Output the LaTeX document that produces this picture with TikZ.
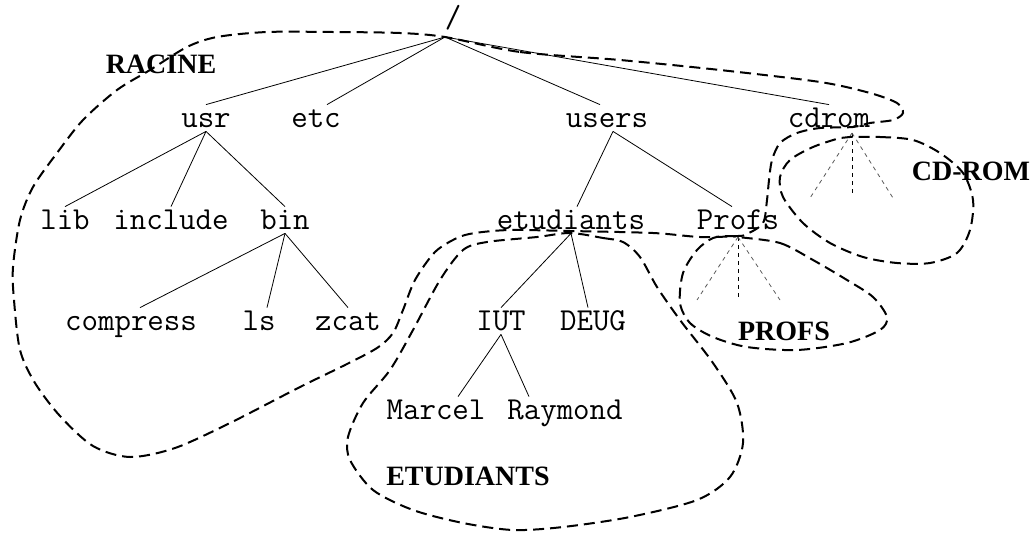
\documentclass[tikz,border=0pt]{standalone}
\usepackage{fontspec}
\setmainfont{Liberation Serif}

\begin{document}
\begin{tikzpicture}[x=5pt,y=-5pt,
  file/.style={font=\ttfamily\fontsize{16}{18}\selectfont, anchor=base, inner sep=0pt, text height=11pt, text depth=2pt},
  part/.style={font=\bfseries\fontsize{14}{16}\selectfont, anchor=base},
  zone/.style={line width=1pt, dash pattern=on 5.5pt off 3pt},
  fan/.style={thin, black!65, dash pattern=on 2pt off 2pt}]
\useasboundingbox (0,0) rectangle (103.3,53.6);

% l'arborescence
\node[file] (root) at (45.3,2.7) {/};
\coordinate (rootpt) at (44.5,3.7);
\node[file] (usr) at (20.6,12.7) {usr};
\node[file] (etc) at (31.6,12.7) {etc};
\node[file] (users) at (60.7,12.7) {users};
\node[file] (cdrom) at (82.9,12.7) {cdrom};
\node[file] (lib) at (6.5,22.9) {lib};
\node[file] (include) at (17.1,22.9) {include};
\node[file] (bin) at (28.5,22.9) {bin};
\node[file] (etudiants) at (57.1,22.9) {etudiants};
\node[file] (profs) at (73.8,22.9) {Profs};
\node[file] (compress) at (13.1,33) {compress};
\node[file] (ls) at (25.9,33) {ls};
\node[file] (zcat) at (34.8,33) {zcat};
\node[file] (iut) at (50.1,33) {IUT};
\node[file] (deug) at (59.3,33) {DEUG};
\node[file] (marcel) at (43.6,41.9) {Marcel};
\node[file] (raymond) at (56.5,41.9) {Raymond};

\draw (rootpt) -- (usr.north);
\draw (rootpt) -- ([xshift=5.5pt]etc.north);
\draw (rootpt) -- ([xshift=-3.5pt]users.north);
\draw (rootpt) -- (cdrom.north);
\foreach \f in {lib,include,bin} \draw (usr.south) -- (\f.north);
\draw (bin.south) -- ([xshift=4.5pt]compress.north);
\draw (bin.south) -- ([xshift=4pt]ls.north);
\draw (bin.south) -- (zcat.north);
\draw ([xshift=3pt]users.south) -- ([xshift=3pt]etudiants.north);
\draw ([xshift=3pt]users.south) -- ([xshift=-3pt]profs.north);
\draw (etudiants.south) -- (iut.north);
\draw (etudiants.south) -- ([xshift=-2.5pt]deug.north);
\draw (iut.south) -- ([xshift=11pt]marcel.north);
\draw (iut.south) -- ([xshift=-18pt]raymond.north);

% points de montage
\coordinate (cdmnt) at (85.2,13.3);
\coordinate (pfmnt) at (73.8,23.7);
\draw[fan] (cdmnt) -- ++(-4.2,6.5);
\draw[fan, black] (cdmnt) -- ++(0,6.2);
\draw[fan] (cdmnt) -- ++(4.1,6.5);
\draw[fan] (pfmnt) -- ++(-4.1,6.3);
\draw[fan, black] (pfmnt) -- ++(0,6);
\draw[fan] (pfmnt) -- ++(4.2,6.3);

% les partitions
\draw[zone] plot[smooth cycle] coordinates {(rootpt) (52,5.2) (62,6.0) (72,7.0) (82,8.2) (87,9.3) (89.7,10.3) (90.3,11.3) (89.3,12) (87,12.3) (85.3,12.7) (82,12.8) (79.7,13.3) (78,14.3) (77.2,16) (76.9,18) (76.7,20) (76.3,22.3) (74.7,23.4) (73.8,23.6) (70,23.7) (65.3,23.3) (57,23.1) (51,23.0) (47.5,23.3) (45.7,23.8) (43.5,25.2) (41.5,28) (40.3,31) (39.3,33.3) (37.7,34.8) (34.5,36.5) (30,38.7) (23,42.3) (17.5,44.8) (13,45.7) (9.3,44.6) (6,41.6) (3.5,38.3) (2,35) (1.4,30) (1.3,26.7) (2,22) (3.3,18.7) (5.7,15.3) (8.3,12) (11.7,9) (15,7) (18.7,4.7) (21.7,3.7) (26.7,3.2) (33.3,3.2) (40,3.3)};
\draw[zone] plot[smooth cycle] coordinates {(85,13.7) (88,13.7) (91.3,14) (94,15.3) (96.3,17.3) (97.3,20) (97,23) (95.7,25.3) (93,26.3) (89.7,26.3) (86.3,25.7) (83,24.3) (80.3,22.3) (78.3,19.7) (78,17.7) (79,16) (81.3,14.7) (84,13.8)};
\draw[zone] plot[smooth cycle] coordinates {(pfmnt) (78,24.3) (81.3,26) (84.7,28) (87.3,29.7) (88.7,31.7) (88,33) (84.7,34.3) (79.7,35) (74.7,34.7) (71.3,33.7) (69,32.3) (68,30.3) (68.3,27.3) (69.7,25) (71.3,23.8) (73,23.6)};
\draw[zone] plot[smooth cycle] coordinates {(57,23.3) (60.3,23.8) (62.3,24.2) (64,25.7) (65.7,28.7) (68,32) (71.3,36.3) (73.7,40.3) (74.3,44.3) (73,47.7) (69.7,50) (63,51.7) (56.3,52.7) (51.3,53) (46.3,52.3) (41.3,51) (37.3,49) (35,46) (34.8,43.7) (36.3,40.3) (39,37) (41.3,33) (44,28) (46.3,25) (48.7,24.2) (53.7,23.7)};

\node[part] (racine) at (16.1,7.3) {RACINE};
\node[part] (cdlabel) at (97.1,18) {CD-ROM};
\node[part] (profslabel) at (78.4,34) {PROFS};
\node[part] (etudlabel) at (46.8,48.5) {ETUDIANTS};
\end{tikzpicture}
\end{document}
